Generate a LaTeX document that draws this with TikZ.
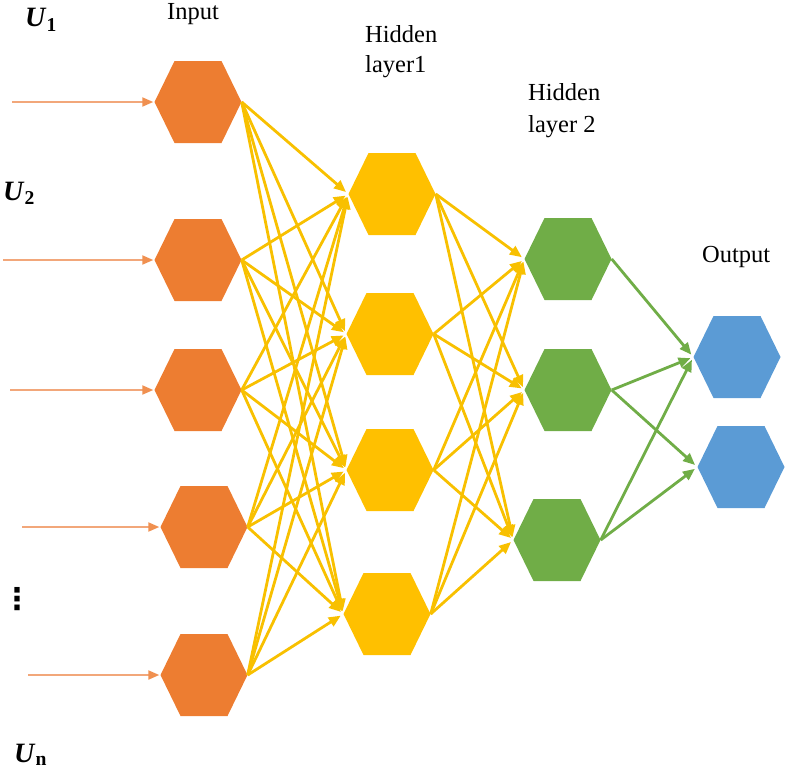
\documentclass[tikz,border=0pt]{standalone}
\usepackage{fontspec}
\setmainfont{Liberation Serif}
\newfontfamily\dejavu{DejaVu Sans}
\usetikzlibrary{arrows.meta,calc}
\definecolor{hexorange}{HTML}{ED7D31}
\definecolor{hexyellow}{HTML}{FFC000}
\definecolor{hexgreen}{HTML}{70AD47}
\definecolor{hexblue}{HTML}{5B9BD5}
\definecolor{inline}{HTML}{F2A77A}
\definecolor{yline}{HTML}{F8C000}
\tikzset{
  hexbase/.style={rectangle, inner sep=0pt, minimum width=87pt, minimum height=82pt,
    path picture={\fill[#1] (path picture bounding box.west)
      -- ($(path picture bounding box.north west)+(20pt,0pt)$)
      -- ($(path picture bounding box.north east)+(-20pt,0pt)$)
      -- (path picture bounding box.east)
      -- ($(path picture bounding box.south east)+(-20pt,0pt)$)
      -- ($(path picture bounding box.south west)+(20pt,0pt)$) -- cycle;}},
  inhex/.style={hexbase=hexorange},
  h1hex/.style={hexbase=hexyellow},
  h2hex/.style={hexbase=hexgreen},
  outhex/.style={hexbase=hexblue},
  inarrow/.style={draw=inline, line width=2pt, -{Triangle[length=11pt,width=9pt,color=hexorange!85!white]}, shorten >=1pt},
  yedge/.style={draw=yline, line width=2.8pt, -{Triangle[length=12pt,width=10pt]}, shorten >=3pt},
  gedge/.style={draw=hexgreen, line width=2.8pt, -{Triangle[length=12pt,width=10pt]}, shorten >=3pt},
  lbl/.style={font=\fontsize{24.5}{28}\selectfont, inner sep=0pt, anchor=base west},
  ulbl/.style={font=\fontsize{28}{32}\selectfont, inner sep=0pt, anchor=base west},
}
\begin{document}
\begin{tikzpicture}[x=1pt,y=-1pt]
\useasboundingbox (0,0) rectangle (789,771);
% nodes
\node[inhex] (o1) at (198,102) {};
\node[inhex] (o2) at (198,260) {};
\node[inhex] (o3) at (198,390) {};
\node[inhex] (o4) at (204,527) {};
\node[inhex] (o5) at (204,675) {};
\node[h1hex] (y1) at (392,194) {};
\node[h1hex] (y2) at (390,334) {};
\node[h1hex] (y3) at (390,470) {};
\node[h1hex] (y4) at (387,614) {};
\node[h2hex] (g1) at (568,259) {};
\node[h2hex] (g2) at (568,390) {};
\node[h2hex] (g3) at (557,540) {};
\node[outhex] (b1) at (737,357) {};
\node[outhex] (b2) at (741,467) {};
% input arrows
\coordinate (s1) at (12,102);
\coordinate (s2) at (3,260);
\coordinate (s3) at (10,390);
\coordinate (s4) at (22,527);
\coordinate (s5) at (28,675);
\foreach \i in {1,...,5} \draw[inarrow] (s\i) -- (o\i.west);
% connections
\foreach \i in {1,...,5} \foreach \j in {1,...,4} \draw[yedge] (o\i.east) -- (y\j.west);
\foreach \i in {1,...,4} \foreach \j in {1,...,3} \draw[yedge] (y\i.east) -- (g\j.west);
\draw[gedge] (g1.east) -- (b1.west);
\draw[gedge] (g2.east) -- (b1.west);
\draw[gedge] (g2.east) -- (b2.west);
\draw[gedge] (g3.east) -- (b1.west);
\draw[gedge] (g3.east) -- (b2.west);
% labels
\node[lbl] (tin) at (167,19) {Input};
\node[lbl] (th1a) at (365,42) {Hidden};
\node[lbl] (th1b) at (365,72) {layer1};
\node[lbl] (th2a) at (528,100) {Hidden};
\node[lbl] (th2b) at (528,132) {layer 2};
\node[lbl] (tout) at (702,262) {Output};
\node[ulbl] (u1) at (25,27) {\textbf{\textit{U}}\textsubscript{\textbf{1}}};
\node[ulbl] (u2) at (3,200) {\textbf{\textit{U}}\textsubscript{\textbf{2}}};
\node[ulbl] (un) at (14,762) {\textbf{\textit{U}}\textsubscript{\textbf{n}}};
\node[font=\dejavu\bfseries\fontsize{30}{32}\selectfont, inner sep=0pt] (dots) at (17,599) {⋮};
\end{tikzpicture}
\end{document}
